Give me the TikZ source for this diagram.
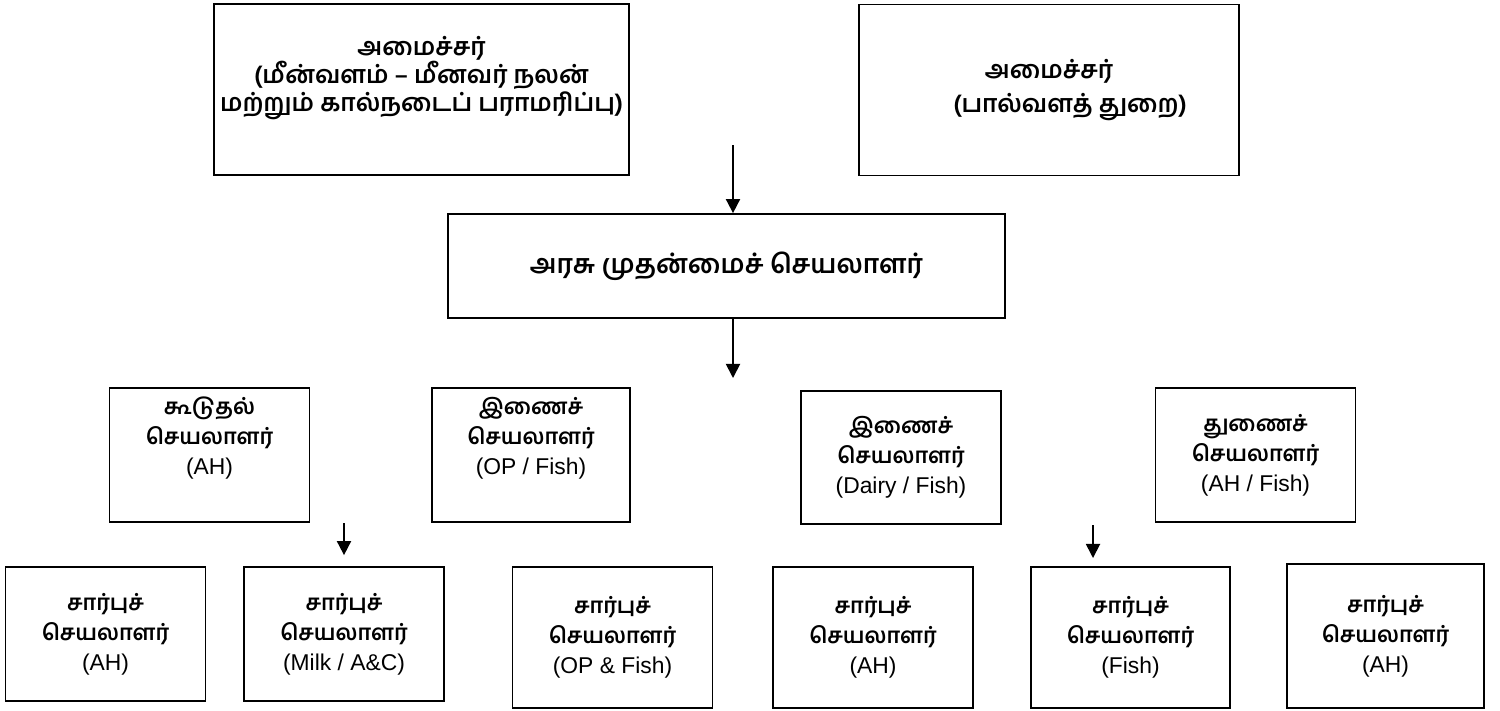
\documentclass[tikz,border=0pt]{standalone}
\usepackage{fontspec}
\setmainfont{Liberation Sans}
\newfontfamily\tamil[Script=Tamil]{Hind Madurai}
\newcommand{\tamtxt}[1]{{\tamil\bfseries #1}}
\newcommand{\entxt}[1]{{\fontsize{13}{17}\selectfont #1}}
\usepackage{tikz}
\usetikzlibrary{arrows.meta, positioning}
\tikzstyle{post} = [rectangle, draw=black, line width=1pt, align=center, inner sep=2pt, minimum width=4cm, minimum height=2.68cm, font={\fontsize{12.5}{17}\selectfont}]
\tikzstyle{down} = [-{Triangle[length=8pt,width=8pt]}, line width=1pt]

\begin{document}
\begin{tikzpicture}
        \tikzstyle{minister} = [post, minimum height=3.42cm, font={\fontsize{14}{16}\selectfont}]
        \tikzstyle{lower} = [post, minimum height=2.82cm]
        \tikzstyle{raised} = [post, text depth=22pt]
        \useasboundingbox (0,0) rectangle (30,-14.2);

        \node[minister, minimum width=8.3cm, text depth=18pt] (minFish) at (8.43,-1.79) {\tamtxt{அமைச்சர்}\\\tamtxt{(மீன்வளம் – மீனவர் நலன்}\\\tamtxt{மற்றும் கால்நடைப் பராமரிப்பு)}};
        \node[minister, minimum width=7.6cm, font={\fontsize{14}{19}\selectfont}] (minDairy) at (20.98,-1.8) {\tamtxt{அமைச்சர்}\\\hspace*{24pt}\tamtxt{(பால்வளத் துறை)}};

        \node[post, minimum width=11.14cm, minimum height=2.08cm, font={\fontsize{15}{17}\selectfont}] (chief) at (14.53,-5.32) {\tamtxt{அரசு முதன்மைச் செயலாளர்}};

        \node[raised] (addlAH) at (4.19,-9.1) {\tamtxt{கூடுதல்}\\\tamtxt{செயலாளர்}\\\entxt{(AH)}};
        \node[raised, minimum width=3.96cm] (jsOP) at (10.62,-9.1) {\tamtxt{இணைச்}\\\tamtxt{செயலாளர்}\\\entxt{(OP / Fish)}};
        \node[post, minimum height=2.66cm] (jsDairy) at (18.02,-9.15) {\tamtxt{இணைச்}\\\tamtxt{செயலாளர்}\\\entxt{(Dairy / Fish)}};
        \node[post] (dsAH) at (25.11,-9.1) {\tamtxt{துணைச்}\\\tamtxt{செயலாளர்}\\\entxt{(AH / Fish)}};

        \node[post] (usAH) at (2.11,-12.68) {\tamtxt{சார்புச்}\\\tamtxt{செயலாளர்}\\\entxt{(AH)}};
        \node[post] (usMilk) at (6.88,-12.68) {\tamtxt{சார்புச்}\\\tamtxt{செயலாளர்}\\\entxt{(Milk / A\&C)}};
        \node[lower] (usOP) at (12.25,-12.75) {\tamtxt{சார்புச்}\\\tamtxt{செயலாளர்}\\\entxt{(OP \& Fish)}};
        \node[lower] (usAHb) at (17.46,-12.75) {\tamtxt{சார்புச்}\\\tamtxt{செயலாளர்}\\\entxt{(AH)}};
        \node[lower, minimum width=3.98cm] (usFish) at (22.61,-12.75) {\tamtxt{சார்புச்}\\\tamtxt{செயலாளர்}\\\entxt{(Fish)}};
        \node[lower, minimum width=3.94cm, minimum height=2.88cm] (usAHc) at (27.71,-12.72) {\tamtxt{சார்புச்}\\\tamtxt{செயலாளர்}\\\entxt{(AH)}};

        \coordinate (topArrow) at (14.66,-2.9);
        \coordinate (midArrow) at (14.66,-7.56);
        \coordinate (milkTop) at ([yshift=0.86cm]usMilk.north);
        \coordinate (milkTip) at ([yshift=0.22cm]usMilk.north);
        \coordinate (fishTop) at (21.86,-10.5);
        \coordinate (fishTip) at (21.86,-11.16);

        \draw[down] (topArrow) -- (topArrow |- chief.north);
        \draw[down] (midArrow |- chief.south) -- (midArrow);
        \draw[down] (milkTop) -- (milkTip);
        \draw[down] (fishTop) -- (fishTip);

    \end{tikzpicture}
\end{document}
